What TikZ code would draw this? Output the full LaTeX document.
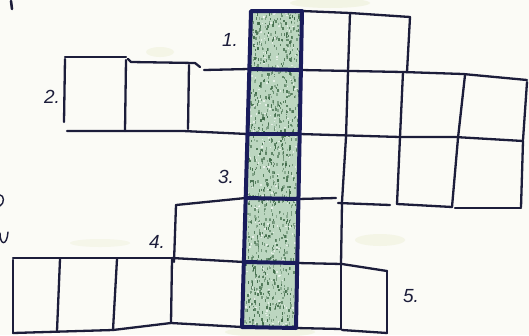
\documentclass[tikz,border=0pt]{standalone}
\usepackage{fontspec}
\setmainfont{Liberation Sans}
\definecolor{paper}{HTML}{FBFBF6}
\definecolor{inkc}{HTML}{1C1D3A}
\definecolor{navy}{HTML}{1A1C5C}
\definecolor{cellg}{HTML}{BCD6C0}
\definecolor{speck}{HTML}{3F6A48}
\definecolor{smudge}{HTML}{E4E8C4}
\begin{document}
\begin{tikzpicture}[x=1pt,y=-1pt,line join=round,line cap=round,
  ink/.style={draw=inkc,line width=2.3pt},
  boldink/.style={draw=navy,line width=4pt},
  lbl/.style={font=\fontsize{19}{19}\selectfont\itshape,text=inkc,inner sep=0pt}]
\useasboundingbox (0,0) rectangle (529,335);
\fill[paper] (0,0) rectangle (529,335);
% faint smudges of the paper
\fill[smudge,opacity=0.35] (330,3) ellipse (40 and 5);
\fill[smudge,opacity=0.3] (160,52) ellipse (14 and 5);
\fill[smudge,opacity=0.3] (380,240) ellipse (25 and 6);
\fill[smudge,opacity=0.35] (270,332) ellipse (45 and 5);
\fill[smudge,opacity=0.25] (100,243) ellipse (30 and 4);
% highlighted column corners
\coordinate (L0) at (251,11);   \coordinate (R0) at (302,11);
\coordinate (L1) at (249.3,69); \coordinate (R1) at (300.9,70);
\coordinate (L2) at (247.5,134);\coordinate (R2) at (299.7,134);
\coordinate (L3) at (245.7,198);\coordinate (R3) at (298.5,199);
\coordinate (L4) at (243.9,262);\coordinate (R4) at (297.2,263);
\coordinate (L5) at (242,327);  \coordinate (R5) at (296,328);
\pgfmathsetseed{7}
\foreach \a/\b/\ya/\yb in {0/1/11/70,1/2/69/134,2/3/134/199,3/4/198/263,4/5/262/328}{
  \begin{scope}
    \clip (L\a) -- (R\a) -- (R\b) -- (L\b) -- cycle;
    \fill[cellg] (238,\ya) rectangle (305,\yb);
    \foreach \i in {1,...,260}{
      \pgfmathsetmacro\px{238+67*rnd}
      \pgfmathsetmacro\py{\ya+(\yb-\ya)*rnd}
      \pgfmathsetmacro\op{0.35+0.6*rnd}
      \fill[speck,opacity=\op] (\px,\py) rectangle ++(1.3,2.6);
    }
    \foreach \i in {1,...,60}{
      \pgfmathsetmacro\px{238+67*rnd}
      \pgfmathsetmacro\py{\ya+(\yb-\ya)*rnd}
      \fill[white,opacity=0.6] (\px,\py) rectangle ++(1.5,1.5);
    }
  \end{scope}
}
% row 1 (right part)
\draw[ink] (R0) -- (350,13) -- (410,17);
\draw[ink] (350,13) -- (348,71);
\draw[ink] (410,17) -- (407,72);
% row 2
\draw[ink] (65,57) -- (126,57);
\draw[ink] (128,59) -- (131,62) -- (195,63) -- (200,67);
\draw[ink] (204,70) -- (L1);
\draw[ink] (65,59) -- (64,122);
\draw[ink] (126,60) -- (125,131);
\draw[ink] (189,65) -- (188,129);
\draw[ink] (67,131) -- (125,131) -- (183,131) -- (L2);
\draw[ink] (R1) -- (403,72) -- (463,74) -- (527,80);
\draw[ink] (403,72) -- (400,137);
\draw[ink] (465,75) -- (458,138);
\draw[ink] (527,82) -- (523,140);
\draw[ink] (R2) -- (400,137) -- (455,137) -- (523,141);
% row 3
\draw[ink] (400,137) -- (397,204);
\draw[ink] (458,138) -- (452,207);
\draw[ink] (523,141) -- (521,207);
\draw[ink] (346,137) -- (342,202);
\draw[ink] (348,71) -- (346,137);
\draw[ink] (R3) -- (336,198);
\draw[ink] (338,203) -- (390,205);
\draw[ink] (397,204) -- (452,207);
\draw[ink] (455,208) -- (521,208);
% row 4
\draw[ink] (176,205) -- (L3);
\draw[ink] (176,205) -- (174,262);
\draw[ink] (172,258) -- (L4);
\draw[ink] (342,203) -- (341,264);
\draw[ink] (R4) -- (342,264) -- (387,271);
% row 5
\draw[ink] (13,258) -- (172,258);
\draw[ink] (13,260) -- (13,333);
\draw[ink] (60,259) -- (57,331);
\draw[ink] (117,259) -- (113,330);
\draw[ink] (172,259) -- (171,323);
\draw[ink] (13,333) -- (113,330) -- (171,323) -- (L5);
\draw[ink] (341,264) -- (341,329);
\draw[ink] (387,271) -- (387,333);
\draw[ink] (R5) -- (341,329);
\draw[ink] (342,330) -- (387,333);
% highlighted column borders
\draw[boldink] (L0) -- (R0) -- (R5) -- (L5) -- cycle;
\foreach \k in {1,...,4}{\draw[boldink] (L\k) -- (R\k);}
% labels
\node[lbl] (n1) at (230,40) {1.};
\node[lbl] (n2) at (52,97) {2.};
\node[lbl] (n3) at (226,177) {3.};
\node[lbl] (n4) at (157,242) {4.};
\node[lbl] (n5) at (411,296) {5.};
% cut-off marks at the left edge
\draw[inkc,line width=2.6pt] (11,1) -- (12,9);
\draw[inkc,line width=1.4pt] (0,195) .. controls (4,195) and (5,203) .. (0,206);
\draw[inkc,line width=1.4pt] (0,233) .. controls (0,246) and (7,246) .. (8,232);
\end{tikzpicture}
\end{document}
